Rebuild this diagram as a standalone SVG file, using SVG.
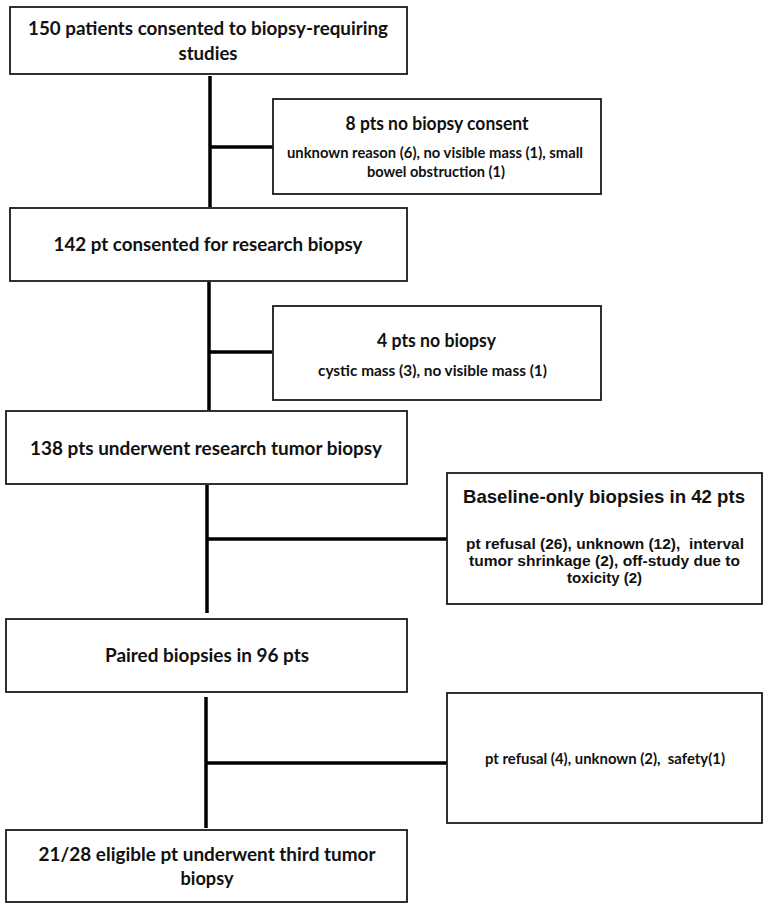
<svg xmlns="http://www.w3.org/2000/svg" width="769" height="911" viewBox="0 0 769 911">
<style>
.box{fill:#fff;stroke:#1a1a1a;stroke-width:1.8}
.c{fill:none;stroke:#000;stroke-width:3.5;stroke-linecap:butt}
text{font-family:Lato,"Liberation Sans",sans-serif;font-weight:bold;fill:#111;text-anchor:middle}
.h{font-size:19px}
.t{font-size:18px}
.s{font-size:15px}
.a{font-family:"Liberation Sans",Arial,sans-serif}
.at{font-size:18.5px}
.as{font-size:15.5px}
</style>
<rect width="769" height="911" fill="#fff"/>
<g id="connectors">
<path class="c" d="M210 76V207M210 147H273"/>
<path class="c" d="M209 282V410M209 352H272"/>
<path class="c" d="M207 485V613M207 539H447"/>
<path class="c" d="M206 697V828M206 763H447"/>
</g>
<g id="n1">
<rect class="box" x="10" y="7" width="397" height="67"/>
<text class="h" x="208" y="35" textLength="360" lengthAdjust="spacingAndGlyphs">150 patients consented to biopsy-requiring</text>
<text class="h" x="208" y="60" textLength="59" lengthAdjust="spacingAndGlyphs">studies</text>
</g>
<g id="n2">
<rect class="box" x="273" y="99" width="328" height="95"/>
<text class="t" x="437" y="130" textLength="183" lengthAdjust="spacingAndGlyphs">8 pts no biopsy consent</text>
<text class="s" x="435" y="158" textLength="296" lengthAdjust="spacingAndGlyphs">unknown reason (6), no visible mass (1), small</text>
<text class="s" x="436" y="177" textLength="138" lengthAdjust="spacingAndGlyphs">bowel obstruction (1)</text>
</g>
<g id="n3">
<rect class="box" x="10" y="208" width="397" height="73"/>
<text class="h" x="208" y="251" textLength="309" lengthAdjust="spacingAndGlyphs">142 pt consented for research biopsy</text>
</g>
<g id="n4">
<rect class="box" x="273" y="306" width="328" height="94"/>
<text class="t" x="436.5" y="347" textLength="119" lengthAdjust="spacingAndGlyphs">4 pts no biopsy</text>
<text class="s" x="432.5" y="376" textLength="229" lengthAdjust="spacingAndGlyphs">cystic mass (3), no visible mass (1)</text>
</g>
<g id="n5">
<rect class="box" x="6" y="411" width="401" height="73"/>
<text class="h" x="206" y="455" textLength="352" lengthAdjust="spacingAndGlyphs">138 pts underwent research tumor biopsy</text>
</g>
<g id="n6">
<rect class="box" x="447" y="473" width="315" height="131"/>
<text class="a at" x="604" y="503" textLength="282" lengthAdjust="spacingAndGlyphs">Baseline-only biopsies in 42 pts</text>
<text class="a as" x="605" y="549" textLength="278" lengthAdjust="spacingAndGlyphs" xml:space="preserve">pt refusal (26), unknown (12),  interval</text>
<text class="a as" x="604.5" y="566" textLength="271" lengthAdjust="spacingAndGlyphs">tumor shrinkage (2), off-study due to</text>
<text class="a as" x="604.5" y="583" textLength="75" lengthAdjust="spacingAndGlyphs">toxicity (2)</text>
</g>
<g id="n7">
<rect class="box" x="6" y="619" width="401" height="73"/>
<text class="h" x="207" y="662" textLength="204" lengthAdjust="spacingAndGlyphs">Paired biopsies in 96 pts</text>
</g>
<g id="n8">
<rect class="box" x="447" y="693" width="315" height="130"/>
<text class="s" x="605" y="764" textLength="240" lengthAdjust="spacingAndGlyphs" xml:space="preserve">pt refusal (4), unknown (2),  safety(1)</text>
</g>
<g id="n9">
<rect class="box" x="6" y="830" width="401" height="72"/>
<text class="h" x="207" y="861" textLength="337" lengthAdjust="spacingAndGlyphs">21/28 eligible pt underwent third tumor</text>
<text class="h" x="207" y="885" textLength="53" lengthAdjust="spacingAndGlyphs">biopsy</text>
</g>
</svg>
